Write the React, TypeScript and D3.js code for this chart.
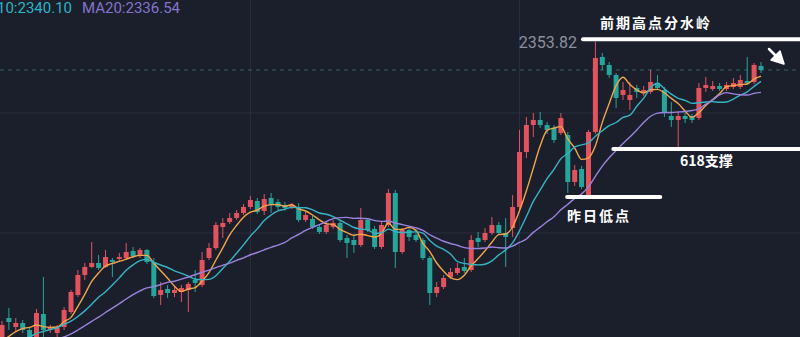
import React from 'react';
import * as d3 from 'd3';

const W = 800;
const H = 337;

// OHLC candles (price units)
const opens = [
  2253.67, 2261.67, 2258.67, 2260.0, 2257.67, 2255.34, 2263.0, 2257.67, 2256.67, 2258.67,
  2263.67, 2269.34, 2276.0, 2278.67, 2280.0, 2278.67, 2281.0, 2281.34, 2281.67, 2284.0,
  2282.34, 2284.34, 2280.34, 2269.34, 2271.34, 2270.0, 2270.34, 2271.0, 2274.34, 2272.67,
  2281.67, 2285.0, 2292.0, 2293.67, 2295.0, 2296.67, 2298.67, 2300.67, 2297.34, 2301.67,
  2300.34, 2299.34, 2298.67, 2298.67, 2294.34, 2294.67, 2292.0, 2290.34, 2292.0, 2293.34,
  2288.34, 2287.67, 2286.0, 2294.34, 2291.34, 2285.34, 2292.67, 2303.34, 2283.67, 2291.0,
  2289.34, 2287.67, 2281.67, 2270.0, 2272.0, 2275.34, 2276.67, 2278.67, 2277.67, 2288.34,
  2287.67, 2290.0, 2292.67, 2290.0, 2291.67, 2298.67, 2317.0, 2326.0, 2327.67, 2326.0,
  2325.0, 2323.34, 2322.67, 2307.0, 2311.34, 2302.67, 2323.67, 2348.67, 2346.0, 2342.67,
  2336.0, 2334.34, 2338.34, 2336.67, 2337.0, 2340.0, 2337.67, 2329.0, 2327.67, 2329.0,
  2329.0, 2328.34, 2338.34, 2338.0, 2339.0, 2338.0, 2338.67, 2338.67, 2340.67, 2340.34,
  2345.67,
];
const highs = [
  2260.67, 2265.0, 2261.67, 2261.0, 2258.67, 2264.67, 2275.34, 2259.34, 2259.34, 2265.34,
  2271.0, 2277.67, 2280.0, 2287.0, 2282.67, 2284.34, 2281.67, 2283.34, 2286.67, 2285.34,
  2285.0, 2284.67, 2281.67, 2273.67, 2272.67, 2272.0, 2272.67, 2273.67, 2277.67, 2283.67,
  2286.67, 2293.67, 2295.0, 2296.67, 2297.67, 2299.67, 2302.34, 2301.67, 2303.0, 2303.34,
  2301.34, 2300.34, 2300.0, 2300.0, 2297.0, 2295.67, 2293.0, 2293.67, 2294.34, 2294.34,
  2289.34, 2289.0, 2298.34, 2295.0, 2292.34, 2293.67, 2304.67, 2304.34, 2291.67, 2291.67,
  2290.0, 2288.34, 2282.34, 2273.67, 2276.0, 2278.34, 2280.0, 2281.67, 2289.34, 2290.34,
  2291.67, 2295.34, 2293.67, 2295.0, 2302.67, 2324.34, 2328.67, 2330.0, 2330.34, 2327.0,
  2326.0, 2330.0, 2323.67, 2312.67, 2312.34, 2324.34, 2353.82, 2350.0, 2347.0, 2343.34,
  2340.34, 2340.34, 2339.34, 2339.0, 2344.34, 2342.67, 2338.67, 2333.67, 2330.34, 2330.0,
  2329.67, 2340.0, 2342.0, 2340.67, 2340.0, 2340.34, 2341.67, 2342.67, 2348.67, 2346.67,
  2347.0,
];
const lows = [
  2252.67, 2257.67, 2257.34, 2256.67, 2254.34, 2254.34, 2255.34, 2256.67, 2255.0, 2257.67,
  2263.0, 2268.67, 2274.34, 2278.34, 2277.67, 2278.34, 2275.34, 2280.67, 2281.0, 2281.67,
  2281.67, 2279.67, 2268.34, 2266.0, 2268.34, 2268.67, 2267.0, 2263.67, 2270.34, 2272.0,
  2281.0, 2284.34, 2288.34, 2293.0, 2294.34, 2296.0, 2298.0, 2296.34, 2296.0, 2296.67,
  2297.67, 2297.34, 2298.0, 2293.67, 2293.67, 2291.34, 2289.67, 2289.67, 2291.34, 2287.0,
  2281.67, 2283.34, 2285.34, 2290.34, 2284.67, 2284.67, 2292.0, 2278.34, 2283.0, 2287.34,
  2287.0, 2281.0, 2266.0, 2268.67, 2271.34, 2274.67, 2276.0, 2276.67, 2277.0, 2285.34,
  2287.0, 2289.34, 2289.34, 2278.67, 2288.67, 2298.0, 2315.0, 2322.0, 2325.0, 2323.0,
  2320.0, 2322.67, 2303.34, 2305.67, 2304.67, 2302.0, 2323.0, 2344.34, 2341.67, 2331.67,
  2334.34, 2331.0, 2335.0, 2335.67, 2336.34, 2337.67, 2328.67, 2325.34, 2318.67, 2326.67,
  2326.67, 2327.67, 2337.0, 2337.34, 2337.34, 2337.34, 2338.0, 2338.0, 2339.34, 2339.67,
  2343.34,
];
const closes = [
  2259.34, 2260.34, 2260.0, 2257.67, 2255.34, 2263.34, 2257.67, 2258.67, 2258.34, 2264.34,
  2270.34, 2276.0, 2278.67, 2280.0, 2278.34, 2282.0, 2280.34, 2282.0, 2283.67, 2282.34,
  2284.34, 2280.34, 2269.0, 2271.0, 2270.0, 2271.0, 2271.67, 2273.0, 2273.34, 2281.0,
  2285.0, 2292.67, 2293.34, 2295.0, 2296.67, 2298.67, 2301.0, 2297.0, 2301.34, 2299.34,
  2298.67, 2298.34, 2299.34, 2294.34, 2296.0, 2292.0, 2290.34, 2292.67, 2293.34, 2287.67,
  2286.67, 2286.0, 2294.34, 2291.0, 2285.34, 2292.67, 2303.34, 2283.67, 2291.0, 2288.67,
  2287.67, 2281.67, 2270.0, 2272.0, 2275.0, 2277.0, 2278.34, 2277.34, 2287.67, 2287.0,
  2290.0, 2292.67, 2290.0, 2288.67, 2298.67, 2317.0, 2326.0, 2327.67, 2326.0, 2324.34,
  2321.0, 2328.34, 2307.0, 2311.0, 2305.34, 2323.67, 2348.34, 2346.0, 2342.67, 2335.0,
  2337.67, 2336.0, 2337.0, 2337.67, 2340.34, 2338.34, 2330.34, 2327.67, 2329.0, 2328.0,
  2327.67, 2338.34, 2339.34, 2339.0, 2338.0, 2339.34, 2340.0, 2341.0, 2340.0, 2346.0,
  2344.34,
];
// closes before the first visible candle, used only to warm up the moving averages
const warmupCloses = [
  2249.34, 2249.0, 2249.67, 2250.34, 2250.0, 2249.34, 2250.34, 2251.0, 2250.67, 2249.67,
  2250.0, 2250.34, 2250.67, 2250.34, 2251.0, 2251.67, 2252.0, 2252.67, 2253.34,
];

const maPeriods = [5, 10, 20];
const legendNames = ['MA10', 'MA20'];
const legendValues = [2340.1, 2336.54];
const gridPrices = [2290, 2330];
const gridIndexes = [36, 75];

const annotationTexts = ['前期高点分水岭', '618支撑', '昨日低点'];
const annotationLevels = [2354.6, 2318.0, 2302.0];
const annotationFrom = [84.2, 88.6, 81.9];
const annotationTo = [117, 117, 95.4];

const UP = '#e2535d';
const DOWN = '#26a69a';
const MA_COLORS = ['#f2a54a', '#37b3c4', '#9a83dc'];
const LEGEND_COLORS = ['#2cb5c4', '#8474cc'];
const BG = '#1b1f2c';
const GRID = '#2a2f3d';

export default function App() {
  const n = closes.length;
  const x = d3.scaleLinear().domain([0, n - 1]).range([2, 761]);
  const y = d3.scaleLinear().domain([2290, 2330]).range([233, 113]);

  const all = warmupCloses.concat(closes);
  const off = warmupCloses.length;
  const mas = maPeriods.map((p) =>
    closes.map((_, i) => {
      const end = off + i;
      const start = end - p + 1;
      return d3.mean(all.slice(Math.max(0, start), end + 1)) as number;
    })
  );
  const line = d3
    .line<number>()
    .x((_, i) => x(i))
    .y((d) => y(d))
    .curve(d3.curveMonotoneX);

  const bodyW = 5;
  const peak = d3.max(highs) as number;
  const lastClose = closes[n - 1];
  const sansFont = 'Roboto, "Noto Sans", sans-serif';
  const cjkFont = '"Noto Sans CJK SC", sans-serif';

  return (
    <svg
      width={W}
      height={H}
      style={{ position: 'absolute', left: 0, top: 0, display: 'block' }}
    >
      <rect x={0} y={0} width={W} height={H} fill={BG} />
      {gridPrices.map((p) => (
        <line key={'gp' + p} x1={0} x2={W} y1={y(p)} y2={y(p)} stroke={GRID} strokeWidth={1} />
      ))}
      {gridIndexes.map((g) => (
        <line key={'gi' + g} x1={x(g)} x2={x(g)} y1={0} y2={H} stroke={GRID} strokeWidth={1} />
      ))}
      <line
        x1={0}
        x2={W}
        y1={y(lastClose)}
        y2={y(lastClose)}
        stroke="#2f6b62"
        strokeWidth={1}
        strokeDasharray="4 4"
      />
      {closes.map((c, i) => {
        const o = opens[i];
        const up = c >= o;
        const col = up ? UP : DOWN;
        const cx = x(i);
        const top = y(Math.max(o, c));
        const bot = y(Math.min(o, c));
        return (
          <g key={'c' + i}>
            <line x1={cx} x2={cx} y1={y(highs[i])} y2={y(lows[i])} stroke={col} strokeWidth={1} />
            <rect
              x={cx - bodyW / 2}
              y={top}
              width={bodyW}
              height={Math.max(1, bot - top)}
              fill={col}
            />
          </g>
        );
      })}
      {mas.map((m, k) => (
        <path key={'ma' + k} d={line(m) || ''} fill="none" stroke={MA_COLORS[k]} strokeWidth={1.4} />
      ))}
      {/* legend */}
      <text x={72} y={13} fontFamily={sansFont} fontSize={15} fill={LEGEND_COLORS[0]} textAnchor="end">
        {legendNames[0] + ':' + legendValues[0].toFixed(2)}
      </text>
      <text x={82} y={13} fontFamily={sansFont} fontSize={15} fill={LEGEND_COLORS[1]}>
        {legendNames[1] + ':' + legendValues[1].toFixed(2)}
      </text>
      {/* peak label */}
      <text x={577} y={y(peak) + 6} fontFamily={sansFont} fontSize={16} fill="#8b909c" textAnchor="end">
        {peak.toFixed(2)}
      </text>
      {/* annotation lines */}
      {annotationLevels.map((lv, k) => (
        <line
          key={'al' + k}
          x1={x(annotationFrom[k])}
          x2={x(annotationTo[k])}
          y1={y(lv)}
          y2={y(lv)}
          stroke="#ffffff"
          strokeWidth={4}
          strokeLinecap="round"
        />
      ))}
      <text x={600} y={28} fontFamily={cjkFont} fontWeight={700} fontSize={14} fill="#ffffff" letterSpacing={2}>
        {annotationTexts[0]}
      </text>
      <text x={680} y={166} fontFamily={cjkFont} fontWeight={700} fontSize={14} fill="#ffffff">
        {annotationTexts[1]}
      </text>
      <text x={567} y={221} fontFamily={cjkFont} fontWeight={700} fontSize={14} fill="#ffffff" letterSpacing={2}>
        {annotationTexts[2]}
      </text>
      {/* arrow */}
      <g stroke="#ffffff" strokeWidth={2.5} strokeLinecap="round" fill="#ffffff">
        <line x1={769} y1={49} x2={783} y2={63} />
        <path d="M784,64 L771,60 L780,51 Z" strokeWidth={1.5} strokeLinejoin="round" />
      </g>
    </svg>
  );
}
